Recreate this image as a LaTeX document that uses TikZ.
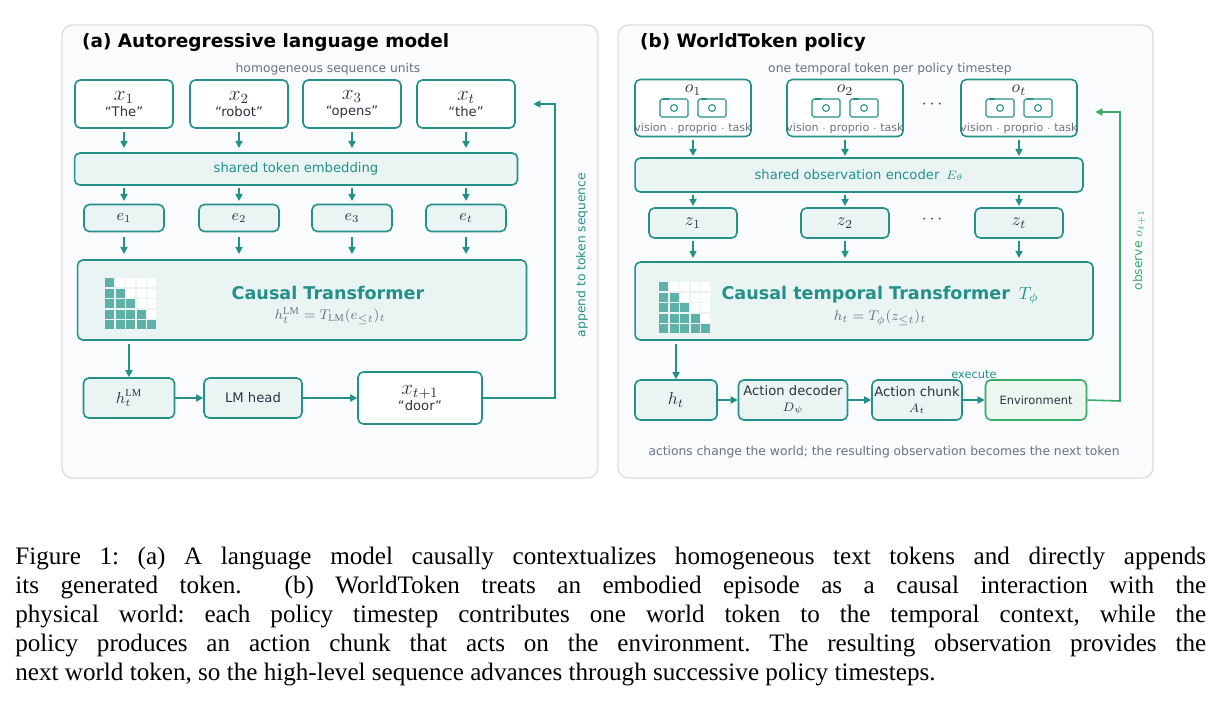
\documentclass[tikz,border=0pt]{standalone}
\usepackage{fontspec}
\setmainfont{Liberation Serif}
\newfontfamily\diag{DejaVu Sans}
\usetikzlibrary{positioning,arrows.meta}
\definecolor{teal1}{HTML}{23908A}
\definecolor{tealfill}{HTML}{EAF5F3}
\definecolor{gridc}{HTML}{5FB0A6}
\definecolor{inkc}{HTML}{2D3340}
\definecolor{grayc}{HTML}{6B7280}
\definecolor{panelfill}{HTML}{F9FBFC}
\definecolor{panelline}{HTML}{D9DEE3}
\definecolor{envc}{HTML}{3AAA6A}
\definecolor{envfill}{HTML}{EDF7F0}
\tikzset{
  panel/.style={draw=panelline, fill=panelfill, rounded corners=6pt, line width=0.8pt},
  tokbox/.style={draw=teal1, fill=white, rounded corners=3pt, line width=0.9pt, align=center, inner sep=0pt, text=inkc, font=\diag\fontsize{7.5}{9}\selectfont},
  embbox/.style={tokbox, fill=tealfill},
  wide/.style={embbox, text=teal1},
  envbox/.style={tokbox, draw=envc, fill=envfill},
  flow/.style={-{Triangle[length=4pt,width=4pt]}, draw=teal1, line width=0.9pt},
  loopflow/.style={flow, draw=envc},
  note/.style={text=grayc, font=\diag\fontsize{7}{8}\selectfont},
  ttl/.style={anchor=west, text=black, font=\diag\bfseries\fontsize{10.5}{12}\selectfont},
  mainlbl/.style={text=teal1, font=\diag\bfseries\fontsize{10}{12}\selectfont},
  pics/mask/.style={code={
    \foreach \r in {0,...,4}{\foreach \c in {0,...,4}{
      \ifnum\c>\r \fill[white] (\c*10.6,\r*10.6) rectangle ++(9,9);
      \else \fill[gridc] (\c*10.6,\r*10.6) rectangle ++(9,9); \fi}}}},
  pics/cam/.style={code={
    \draw[teal1, line width=0.6pt, rounded corners=1pt] (-14,-9) rectangle (14,9);
    \draw[teal1, line width=0.6pt] (0,0) circle (3.4);
    \fill[teal1] (-11,-10) rectangle (-5,-8);}}
}
\begin{document}
\begin{tikzpicture}[x=0.02cm, y=-0.02cm]
  \useasboundingbox (0,0) rectangle (1219,727);

  % panel (a)
  \draw[panel] (62,25) rectangle (598,478);
  \node[ttl] (ta) at (76,42) {(a) Autoregressive language model};
  \node[note] (ua) at (328,69) {homogeneous sequence units};
  \foreach \n/\x/\s/\w in {1/124/1/The, 2/239/2/robot, 3/352/3/opens, 4/466/t/the}{
    \node[tokbox, minimum width=1.96cm, minimum height=0.96cm] (x\n) at (\x,104) {\large$x_{\s}$\\“\w”};
    \node[embbox, minimum width=1.6cm, minimum height=0.54cm, font=\diag\fontsize{9}{10}\selectfont] (e\n) at (\x,218) {$e_{\s}$};
  }
  \node[wide, minimum width=8.86cm, minimum height=0.64cm] (emb) at (296,169) {shared token embedding};
  \node[embbox, minimum width=8.98cm, minimum height=1.6cm] (tfa) at (302,300) {};
  \node[mainlbl] (tfal) at (328,293) {Causal Transformer};
  \node[note, font=\fontsize{8.5}{10}\selectfont] (tfaf) at (330,316) {$h_t^{\mathrm{LM}} = T_{\mathrm{LM}}(e_{\le t})_t$};
  \pic at (105,278) {mask};
  \foreach \n in {1,...,4}{
    \draw[flow] (x\n.south |- 0,132) -- (x\n.south |- 0,148);
    \draw[flow] (x\n.south |- 0,188) -- (x\n.south |- 0,201);
    \draw[flow] (x\n.south |- 0,237) -- (x\n.south |- 0,254);
  }
  \node[embbox, minimum width=1.82cm, minimum height=0.8cm, font=\diag\fontsize{9}{10}\selectfont] (ha) at (129,398) {$h_t^{\mathrm{LM}}$};
  \node[embbox, minimum width=1.96cm, minimum height=0.8cm] (head) at (253,398) {LM head};
  \node[tokbox, minimum width=2.48cm, minimum height=1.04cm] (xn) at (420,398) {\large$x_{t+1}$\\“door”};
  \draw[flow] (ha.north |- tfa.south) ++(0,3) -- (ha.north);
  \draw[flow] (ha) -- (head);
  \draw[flow] (head) -- (xn);
  \coordinate (ra) at (555,398);
  \draw[flow] (xn.east) -- (ra) -- (ra |- x4.east) -- ([xshift=10]x4.east);
  \node[note, text=teal1, rotate=90] (apl) at (582,255) {append to token sequence};

  % panel (b)
  \draw[panel] (618,25) rectangle (1153,478);
  \node[ttl] (tb) at (634,42) {(b) WorldToken policy};
  \node[note] (ub) at (890,69) {one temporal token per policy timestep};
  \foreach \n/\x/\s in {1/693/1, 2/845/2, 4/1019/t}{
    \node[tokbox, minimum width=2.32cm, minimum height=1.14cm] (o\n) at (\x,108) {};
    \node[font=\diag\fontsize{10}{11}\selectfont, text=inkc] (ol\n) at (\x,90) {$o_{\s}$};
    \pic at (\x-19,108) {cam};
    \pic at (\x+19,108) {cam};
    \node[note, font=\diag\fontsize{6.3}{7}\selectfont] (vp\n) at (\x,128) {vision $\cdot$ proprio $\cdot$ task};
    \node[embbox, minimum width=1.76cm, minimum height=0.6cm, font=\diag\fontsize{10}{11}\selectfont] (z\n) at (\x,223) {$z_{\s}$};
    \draw[flow] (o\n.south |- 0,140) -- (o\n.south |- 0,156);
    \draw[flow] (o\n.south |- 0,195) -- (o\n.south |- 0,206);
    \draw[flow] (o\n.south |- 0,241) -- (o\n.south |- 0,258);
  }
  \node[text=inkc] (do) at (932,105) {$\cdots$};
  \node[text=inkc] (dz) at (932,220) {$\cdots$};
  \node[wide, minimum width=8.96cm, minimum height=0.68cm] (enc) at (859,175) {shared observation encoder\enspace$E_\theta$};
  \node[embbox, minimum width=9.16cm, minimum height=1.56cm] (tfb) at (864,301) {};
  \node[mainlbl] (tfbl) at (880,295) {Causal temporal Transformer\enspace\normalfont$T_\phi$};
  \node[note, font=\fontsize{8.5}{10}\selectfont] (tfbf) at (880,318) {$h_t = T_\phi(z_{\le t})_t$};
  \pic at (659,282) {mask};
  \node[embbox, minimum width=1.64cm, minimum height=0.8cm, font=\diag\fontsize{10}{11}\selectfont] (hb) at (676,400) {$h_t$};
  \node[embbox, minimum width=2.18cm, minimum height=0.8cm] (dec) at (793,400) {Action decoder\\$D_\psi$};
  \node[embbox, minimum width=1.8cm, minimum height=0.8cm] (chunk) at (917,400) {Action chunk\\$A_t$};
  \node[envbox, minimum width=2.02cm, minimum height=0.8cm, font=\diag\fontsize{6.5}{8}\selectfont] (env) at (1036,400) {Environment};
  \draw[flow] (hb.north |- tfb.south) ++(0,3) -- (hb.north);
  \draw[flow] (hb) -- (dec);
  \draw[flow] (dec) -- (chunk);
  \draw[flow] (chunk) -- (env);
  \node[note, text=teal1, font=\diag\fontsize{6.5}{7}\selectfont] (exe) at (974,375) {execute};
  \coordinate (rb) at (1120,401);
  \draw[loopflow] (env.east) -- (rb) -- (rb |- 0,112) -- ([xshift=10]o4.east |- 0,112);
  \node[note, text=envc, rotate=90] (obs) at (1139,250) {observe $o_{t+1}$};
  \node[note] (bot) at (884,452) {actions change the world; the resulting observation becomes the next token};

  % caption
  \node[anchor=north west, text width=23.82cm, inner sep=0pt, align=justify, font=\fontsize{14.3}{16.45}\selectfont] (cap) at (15,547)
  {\frenchspacing Figure 1: (a) A language model causally contextualizes homogeneous text tokens and directly appends\linebreak
  its generated token.\ \ (b) WorldToken treats an embodied episode as a causal interaction with the\linebreak
  physical world: each policy timestep contributes one world token to the temporal context, while the\linebreak
  policy produces an action chunk that acts on the environment. The resulting observation provides the\linebreak
  next world token, so the high-level sequence advances through successive policy timesteps.};
\end{tikzpicture}
\end{document}
